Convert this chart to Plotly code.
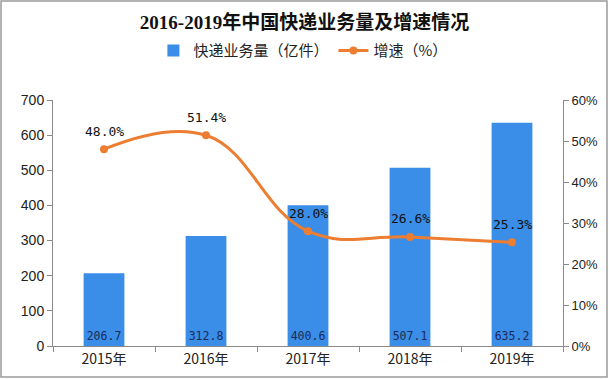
import plotly.graph_objects as go

categories = ["2015年", "2016年", "2017年", "2018年", "2019年"]
volume = [206.7, 312.8, 400.6, 507.1, 635.2]
growth = [48.0, 51.4, 28.0, 26.6, 25.3]
left_ticks = [0, 100, 200, 300, 400, 500, 600, 700]
right_ticks = [0, 10, 20, 30, 40, 50, 60]

BLUE = "#3a8ee8"
ORANGE = "#ed7d31"
CJK = "Noto Sans CJK SC"
MONO = "DejaVu Sans Mono, Noto Sans CJK SC"

fig = go.Figure()
fig.add_trace(go.Bar(
    x=categories, y=volume, name="快递业务量（亿件）",
    marker=dict(color=BLUE, line=dict(width=0)),
    width=0.4,
    text=[f"{v:.1f}" for v in volume],
    textposition="inside", insidetextanchor="start", textangle=0,
    textfont=dict(family=MONO, size=13, color="#1c2b5a"),
    hoverinfo="skip",
))
fig.add_trace(go.Scatter(
    x=categories, y=growth, name="增速（%）", yaxis="y2",
    mode="lines+markers",
    line=dict(color=ORANGE, width=3, shape="spline", smoothing=1.2),
    marker=dict(color=ORANGE, size=8),
    hoverinfo="skip",
))
for c, g in zip(categories, growth):
    fig.add_annotation(x=c, y=g, yref="y2", text=f"{g:.1f}%", showarrow=False,
                       yshift=18, font=dict(family=MONO, size=13, color="#111"))

# outer frame
fig.add_shape(type="rect", xref="paper", yref="paper",
              x0=(1 - 53) / 510, x1=(607 - 53) / 510,
              y0=(346 - 377) / 246, y1=(346 - 1) / 246,
              line=dict(color="#9a9a9a", width=1.5), fillcolor="rgba(0,0,0,0)")

fig.update_layout(
    width=609, height=379,
    margin=dict(l=53, r=46, t=100, b=33),
    paper_bgcolor="white", plot_bgcolor="white",
    title=dict(text="<b>2016-2019年中国快递业务量及增速情况</b>",
               x=0.5, xanchor="center", y=1 - 22 / 379, yanchor="middle",
               font=dict(family="Liberation Serif, Noto Sans CJK SC", size=19, color="#111")),
    legend=dict(orientation="h", x=0.49, xanchor="center", y=1.2, yanchor="middle",
                font=dict(family=CJK, size=15, color="#222"), itemwidth=30,
                bgcolor="rgba(0,0,0,0)"),
    showlegend=True,
    xaxis=dict(type="category", showline=True, linecolor="#8a8a8a", linewidth=1,
               ticks="outside", tickson="boundaries", ticklen=5, tickcolor="#8a8a8a",
               tickfont=dict(family=CJK, size=14, color="#222"), showgrid=False,
               range=[-0.5, 4.5]),
    yaxis=dict(range=[0, 700], tickvals=left_ticks, showline=True, linecolor="#8a8a8a",
               ticks="outside", ticklen=5, tickcolor="#8a8a8a", showgrid=False,
               zeroline=False, tickfont=dict(family="Liberation Sans, Arial", size=14, color="#222")),
    yaxis2=dict(range=[0, 60], tickvals=right_ticks, ticktext=[f"{t}%" for t in right_ticks],
                overlaying="y", side="right", showline=True, linecolor="#8a8a8a",
                ticks="outside", ticklen=5, tickcolor="#8a8a8a", showgrid=False,
                zeroline=False, tickfont=dict(family="Liberation Sans, Arial", size=13, color="#222")),
)

fig.write_html("out.html", config={"displayModeBar": False},
               post_script="document.body.style.margin='0';")
